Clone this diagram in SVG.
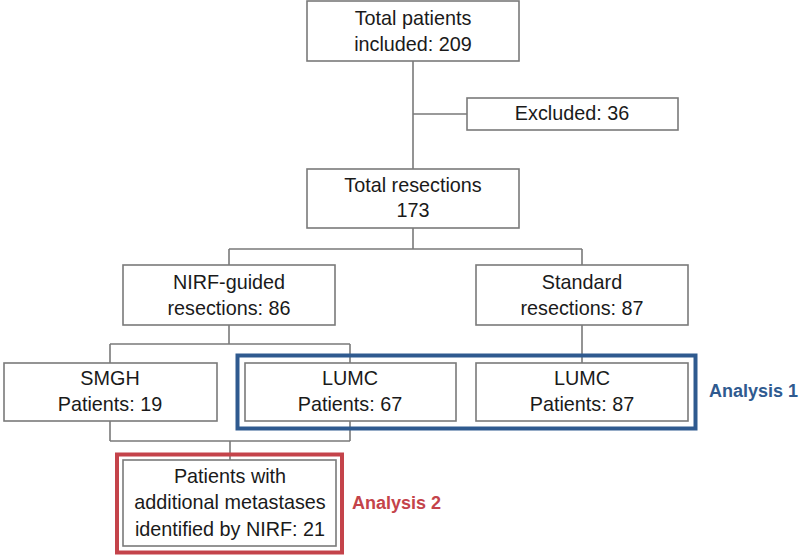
<svg xmlns="http://www.w3.org/2000/svg" width="800" height="560" viewBox="0 0 800 560">
<style>
.box{fill:#fff;stroke:#7a7a7a;stroke-width:1.6}
.ln{fill:none;stroke:#7a7a7a;stroke-width:1.6}
.t{font-family:"Liberation Sans",Arial,sans-serif;font-size:19.8px;fill:#1a1a1a;text-anchor:middle}
.lab{font-family:"Liberation Sans",Arial,sans-serif;font-size:18px;font-weight:bold}
</style>
<rect width="800" height="560" fill="#fff"/>
<g id="connectors">
<path class="ln" d="M413,61 V169 M413,114 H467 M413,228 V249 M229,249 H582 M229,249 V265 M582,249 V265"/>
<path class="ln" d="M229,325 V344 M110,344 H350 M110,344 V363 M350,344 V363 M582,325 V363"/>
<path class="ln" d="M110,421 V441 M350,421 V441 M110,441 H350 M230,441 V460"/>
</g>
<g id="n_total"><rect class="box" x="307" y="1" width="212" height="60"/><text class="t" x="413" y="25">Total patients</text><text class="t" x="413" y="51">included: 209</text></g>
<g id="n_excluded"><rect class="box" x="467" y="98" width="211" height="32"/><text class="t" x="572" y="120">Excluded: 36</text></g>
<g id="n_resections"><rect class="box" x="307" y="169" width="212" height="59"/><text class="t" x="413" y="192">Total resections</text><text class="t" x="413" y="217">173</text></g>
<g id="n_nirf"><rect class="box" x="123" y="265" width="212" height="60"/><text class="t" x="229" y="289">NIRF-guided</text><text class="t" x="229" y="315">resections: 86</text></g>
<g id="n_standard"><rect class="box" x="476" y="265" width="212" height="60"/><text class="t" x="582" y="289">Standard</text><text class="t" x="582" y="315">resections: 87</text></g>
<g id="n_smgh"><rect class="box" x="4" y="363" width="213" height="58"/><text class="t" x="110" y="385">SMGH</text><text class="t" x="110" y="411">Patients: 19</text></g>
<g id="n_lumc1"><rect class="box" x="245" y="363" width="211" height="58"/><text class="t" x="350" y="385">LUMC</text><text class="t" x="350" y="411">Patients: 67</text></g>
<g id="n_lumc2"><rect class="box" x="476" y="363" width="212" height="58"/><text class="t" x="582" y="385">LUMC</text><text class="t" x="582" y="411">Patients: 87</text></g>
<g id="analysis1"><rect x="237.5" y="355.5" width="458" height="73" fill="none" stroke="#2F5A8F" stroke-width="4"/><text class="lab" x="709" y="397" fill="#2F5A8F">Analysis 1</text></g>
<g id="n_additional"><rect class="box" x="123" y="460" width="213" height="86"/><text class="t" x="230" y="483">Patients with</text><text class="t" x="230" y="509">additional metastases</text><text class="t" x="230" y="536">identified by NIRF: 21</text></g>
<g id="analysis2"><rect x="117" y="454.5" width="225" height="98" fill="none" stroke="#C4434A" stroke-width="4"/><text class="lab" x="352" y="509" fill="#C4434A">Analysis 2</text></g>
</svg>
